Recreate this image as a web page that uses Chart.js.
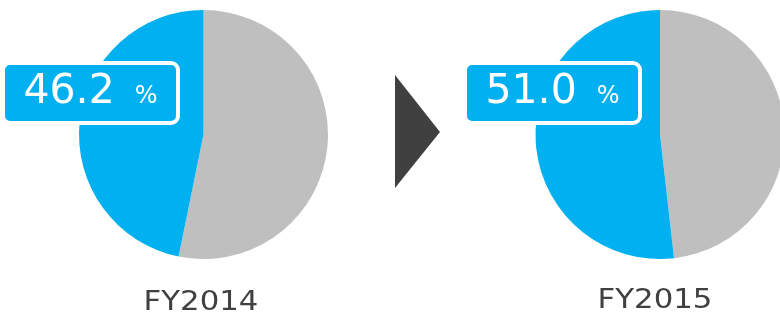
<!DOCTYPE html>
<html>
<head>
<meta charset="utf-8">
<script src="https://cdn.jsdelivr.net/npm/chart.js@4/dist/chart.umd.min.js"></script>
<style>
  html, body { margin: 0; padding: 0; background: #fff; }
  #wrap { position: relative; width: 780px; height: 316px; overflow: hidden; }
  #wrap canvas { position: absolute; left: 0; top: 0; }
</style>
</head>
<body>
<div id="wrap">
  <canvas id="pie2014" width="800" height="316"></canvas>
  <canvas id="pie2015" width="800" height="316"></canvas>
</div>
<script>
const years = ["FY2014", "FY2015"];
// slice sizes as drawn in the picture (the wedges are slightly larger than the printed labels)
const blueShare = [46.8, 51.8];
const greyShare = [53.2, 48.2];
const shareText = ["46.2", "51.0"];

const BLUE = "#00B0F0";
const GREY = "#BFBFBF";
const DARK = "#404040";
const FONT = "'DejaVu Sans', Verdana, sans-serif";

// where each pie sits on its canvas, and where its label box goes
const layouts = [
  { padding: { left: 79, top: 10, right: 472, bottom: 57 }, boxX: 3, labelX: 201, labelY: 310, arrow: true },
  { padding: { left: 535.5, top: 10, right: 15.5, bottom: 57 }, boxX: 465, labelX: 655, labelY: 308, arrow: false }
];

function roundRect(ctx, x, y, w, h, r) {
  ctx.beginPath();
  ctx.moveTo(x + r, y);
  ctx.arcTo(x + w, y, x + w, y + h, r);
  ctx.arcTo(x + w, y + h, x, y + h, r);
  ctx.arcTo(x, y + h, x, y, r);
  ctx.arcTo(x, y, x + w, y, r);
  ctx.closePath();
}

const labelPlugin = {
  id: "shareLabel",
  afterDraw(chart, args, opts) {
    const ctx = chart.ctx;
    const i = opts.index;
    const lay = layouts[i];
    ctx.save();

    // value box
    const bx = lay.boxX, by = 63, bw = 175, bh = 60;
    roundRect(ctx, bx, by, bw, bh, 7);
    ctx.fillStyle = BLUE;
    ctx.fill();
    ctx.lineWidth = 4;
    ctx.strokeStyle = "#fff";
    ctx.stroke();

    ctx.fillStyle = "#fff";
    ctx.textBaseline = "alphabetic";
    ctx.textAlign = "left";
    ctx.font = "41px " + FONT;
    const numW = ctx.measureText(shareText[i]).width;
    ctx.font = "24px " + FONT;
    const gap = 20;
    const pctW = ctx.measureText("%").width;
    const total = numW + gap + pctW;
    const tx = bx + bw / 2 - total / 2;
    ctx.font = "41px " + FONT;
    ctx.fillText(shareText[i], tx, 103);
    ctx.font = "24px " + FONT;
    ctx.fillText("%", tx + numW + gap, 103);

    // year caption (wide lettering, stretched horizontally)
    ctx.fillStyle = DARK;
    ctx.font = "27px " + FONT;
    ctx.textAlign = "center";
    ctx.translate(lay.labelX, lay.labelY);
    ctx.scale(1.14, 1);
    ctx.fillText(years[i], 0, 0);
    ctx.setTransform(1, 0, 0, 1, 0, 0);

    // arrow between the two years
    if (lay.arrow) {
      ctx.fillStyle = DARK;
      ctx.beginPath();
      ctx.moveTo(395, 75);
      ctx.lineTo(440, 132);
      ctx.lineTo(395, 188);
      ctx.closePath();
      ctx.fill();
    }
    ctx.restore();
  }
};

function makePie(canvasId, i) {
  return new Chart(document.getElementById(canvasId), {
    type: "pie",
    data: {
      labels: ["Other", "Share"],
      datasets: [{
        data: [greyShare[i], blueShare[i]],
        backgroundColor: [GREY, BLUE],
        borderWidth: 0
      }]
    },
    options: {
      responsive: false,
      animation: false,
      layout: { padding: layouts[i].padding },
      plugins: {
        legend: { display: false },
        tooltip: { enabled: false },
        shareLabel: { index: i }
      }
    },
    plugins: [labelPlugin]
  });
}

makePie("pie2014", 0);
makePie("pie2015", 1);
</script>
</body>
</html>
